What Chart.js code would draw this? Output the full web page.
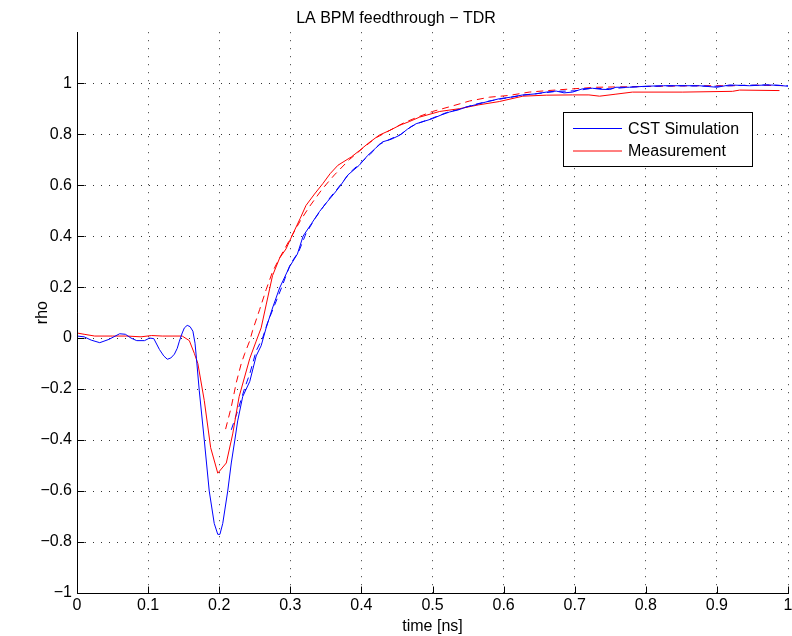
<!DOCTYPE html>
<html>
<head>
<meta charset="utf-8">
<script src="https://cdn.jsdelivr.net/npm/chart.js@4"></script>
<style>
html,body{margin:0;padding:0;background:#fff;}
#wrap{width:792px;height:636px;}
</style>
</head>
<body>
<div id="wrap"><canvas id="c" width="792" height="636"></canvas></div>
<script>
// ---- data ----
const xTicks = [0,0.1,0.2,0.3,0.4,0.5,0.6,0.7,0.8,0.9,1];
const xTickLabels = ['0','0.1','0.2','0.3','0.4','0.5','0.6','0.7','0.8','0.9','1'];
const yTicks = [-1,-0.8,-0.6,-0.4,-0.2,0,0.2,0.4,0.6,0.8,1];
const yTickLabels = ['\u22121','\u22120.8','\u22120.6','\u22120.4','\u22120.2','0','0.2','0.4','0.6','0.8','1'];

const cstTime = [0,0.01,0.02,0.032,0.045,0.06,0.068,0.076,0.084,0.095,0.102,0.108,0.116,0.122,0.127,0.132,0.137,0.141,0.144,0.148,0.151,0.155,0.159,0.163,0.166,0.168,0.172,0.179,0.186,0.193,0.198,0.201,0.205,0.212,0.217,0.222,0.226,0.233,0.243,0.252,0.259,0.266,0.275,0.285,0.299,0.31,0.318,0.33,0.341,0.352,0.362,0.371,0.381,0.397,0.409,0.42,0.43,0.442,0.454,0.465,0.477,0.49,0.5,0.512,0.524,0.536,0.547,0.56,0.575,0.594,0.61,0.627,0.645,0.66,0.674,0.685,0.697,0.711,0.725,0.737,0.749,0.758,0.777,0.8,0.825,0.852,0.875,0.9,0.918,0.946,0.97,0.985,1.0];
const cstRho = [0.008,0.005,-0.008,-0.018,-0.005,0.017,0.015,0.0,-0.01,-0.01,0.0,-0.002,-0.045,-0.07,-0.083,-0.078,-0.063,-0.04,-0.012,0.02,0.04,0.05,0.045,0.027,-0.02,-0.08,-0.207,-0.40,-0.60,-0.727,-0.77,-0.77,-0.727,-0.60,-0.49,-0.40,-0.325,-0.23,-0.17,-0.07,-0.03,0.04,0.118,0.197,0.28,0.33,0.40,0.45,0.496,0.535,0.568,0.60,0.64,0.678,0.717,0.745,0.77,0.78,0.796,0.82,0.841,0.852,0.861,0.875,0.887,0.895,0.906,0.915,0.926,0.939,0.945,0.954,0.958,0.965,0.969,0.962,0.965,0.978,0.98,0.976,0.975,0.984,0.984,0.988,0.99,0.99,0.99,0.984,0.993,0.99,0.993,0.992,0.988];

const measTime = [0,0.01,0.025,0.05,0.07,0.09,0.105,0.12,0.135,0.148,0.158,0.165,0.17,0.179,0.188,0.198,0.21,0.219,0.228,0.243,0.252,0.259,0.266,0.275,0.285,0.294,0.303,0.314,0.322,0.334,0.346,0.356,0.367,0.386,0.397,0.41,0.425,0.44,0.454,0.468,0.482,0.51,0.538,0.565,0.594,0.627,0.66,0.697,0.72,0.735,0.758,0.781,0.852,0.922,0.932,0.988];
const measRho = [0.02,0.015,0.008,0.008,0.008,0.005,0.01,0.008,0.008,0.008,-0.01,-0.06,-0.10,-0.245,-0.43,-0.53,-0.49,-0.376,-0.23,-0.08,-0.012,0.04,0.13,0.245,0.314,0.35,0.405,0.47,0.52,0.565,0.607,0.645,0.678,0.711,0.735,0.765,0.796,0.815,0.835,0.85,0.867,0.889,0.9,0.915,0.928,0.949,0.953,0.954,0.954,0.949,0.957,0.965,0.965,0.968,0.973,0.971];

const cstDashTime = [0.217,0.226,0.236,0.243,0.252,0.261,0.268,0.278,0.288,0.3,0.312,0.322,0.335,0.345,0.357,0.366,0.384,0.4,0.412,0.425,0.44,0.456,0.47,0.482,0.5,0.52,0.54,0.56,0.58,0.6,0.625,0.65,0.675,0.7,0.725,0.75,0.78,0.81,0.85,0.9,0.94,0.97,1.0];
const cstDashRho = [-0.36,-0.285,-0.195,-0.14,-0.05,0.0,0.06,0.13,0.2,0.29,0.34,0.41,0.47,0.51,0.555,0.585,0.65,0.69,0.72,0.76,0.78,0.80,0.83,0.845,0.863,0.885,0.9,0.917,0.93,0.94,0.952,0.96,0.968,0.97,0.98,0.978,0.985,0.988,0.99,0.988,0.992,0.993,0.99];

const measDashTime = [0.209,0.217,0.224,0.231,0.236,0.243,0.247,0.257,0.266,0.275,0.285,0.3,0.314,0.327,0.345,0.362,0.383,0.402,0.42,0.44,0.46,0.48,0.5,0.526,0.552,0.58,0.608,0.636,0.662,0.693,0.73,0.777,0.82,0.87,0.92,0.96,1.0];
const measDashRho = [-0.357,-0.27,-0.175,-0.10,-0.06,-0.01,0.03,0.113,0.19,0.26,0.315,0.39,0.46,0.516,0.585,0.64,0.70,0.745,0.785,0.815,0.845,0.868,0.889,0.909,0.93,0.945,0.952,0.965,0.971,0.977,0.984,0.986,0.988,0.99,0.99,0.992,0.99];

const FONT = '"Liberation Sans", Arial, Helvetica, sans-serif';
const pts = (xs, ys) => xs.map((x, i) => ({x: x, y: ys[i]}));

const axesAndTicks = {
  id: 'axesAndTicks',
  afterDatasetsDraw(chart) {
    const {ctx, chartArea: a, scales: {x, y}} = chart;
    ctx.save();
    ctx.setLineDash([]);
    ctx.strokeStyle = '#000';
    ctx.lineWidth = 1;
    ctx.beginPath();
    const L = Math.round(a.left) + 0.5, B = Math.round(a.bottom) + 0.5;
    ctx.moveTo(L, Math.round(a.top));
    ctx.lineTo(L, B);
    ctx.lineTo(Math.round(a.right) + 1, B);
    xTicks.forEach(v => {
      const px = Math.round(x.getPixelForValue(v)) + 0.5;
      ctx.moveTo(px, B);
      ctx.lineTo(px, B - 7);
    });
    yTicks.forEach(v => {
      const py = Math.round(y.getPixelForValue(v)) + 0.5;
      ctx.moveTo(L, py);
      ctx.lineTo(L + 7, py);
    });
    ctx.stroke();
    ctx.restore();
  }
};

const boxLegend = {
  id: 'boxLegend',
  afterDraw(chart) {
    const ctx = chart.ctx;
    const items = chart.data.datasets.filter(d => d.inLegend);
    const L = 563.5, T = 112.5, W = 189, H = 54;
    ctx.save();
    ctx.fillStyle = '#fff';
    ctx.fillRect(L, T, W, H);
    ctx.strokeStyle = '#000';
    ctx.lineWidth = 1;
    ctx.strokeRect(L, T, W, H);
    ctx.font = '16px ' + FONT;
    ctx.textBaseline = 'middle';
    ctx.textAlign = 'left';
    items.forEach((d, i) => {
      const yy = 128.5 + i * 22.5;
      ctx.strokeStyle = d.borderColor;
      ctx.beginPath();
      ctx.moveTo(573, yy);
      ctx.lineTo(622, yy);
      ctx.stroke();
      ctx.fillStyle = '#000';
      ctx.fillText(d.label, 628, yy + 1);
    });
    ctx.restore();
  }
};

new Chart(document.getElementById('c'), {
  type: 'line',
  data: {
    datasets: [
      {label: 'CST Simulation', inLegend: true, data: pts(cstTime, cstRho), borderColor: '#0000ff', borderWidth: 1, pointRadius: 0, tension: 0, fill: false},
      {label: 'Measurement', inLegend: true, data: pts(measTime, measRho), borderColor: '#ff0000', borderWidth: 1, pointRadius: 0, tension: 0, fill: false},
      {label: 'CST Simulation (dashed)', inLegend: false, data: pts(cstDashTime, cstDashRho), borderColor: '#0000ff', borderWidth: 1, borderDash: [7, 5], pointRadius: 0, tension: 0, fill: false},
      {label: 'Measurement (dashed)', inLegend: false, data: pts(measDashTime, measDashRho), borderColor: '#ff0000', borderWidth: 1, borderDash: [7, 5], pointRadius: 0, tension: 0, fill: false}
    ]
  },
  options: {
    responsive: false,
    animation: false,
    devicePixelRatio: 1,
    layout: {padding: {left: 0, right: 0, top: 0, bottom: 0}},
    plugins: {
      legend: {display: false},
      tooltip: {enabled: false},
      title: {
        display: true,
        text: 'LA BPM feedthrough \u2212 TDR',
        color: '#000',
        font: {family: FONT, size: 16, weight: 'normal'},
        padding: {top: 9, bottom: 4}
      }
    },
    scales: {
      x: {
        type: 'linear',
        min: 0, max: 1,
        afterBuildTicks: s => { s.ticks = xTicks.map(v => ({value: v})); },
        afterFit: s => { s.height = 43; s.paddingRight = 4; s.paddingLeft = 0; },
        ticks: {
          color: '#000',
          font: {family: FONT, size: 16},
          padding: 3,
          maxRotation: 0,
          autoSkip: false,
          callback: (v, i) => xTickLabels[i]
        },
        grid: {color: 'rgba(0,0,0,0.8)', drawTicks: false, lineWidth: 1},
        border: {display: false, dash: [1, 7]},
        title: {display: true, text: 'time [ns]', color: '#000', font: {family: FONT, size: 16}, padding: {top: 0, bottom: 0}}
      },
      y: {
        type: 'linear',
        min: -1, max: 1.2,
        afterBuildTicks: s => { s.ticks = yTicks.map(v => ({value: v})); },
        afterFit: s => { s.width = 77; },
        ticks: {
          color: '#000',
          font: {family: FONT, size: 16},
          padding: 5,
          autoSkip: false,
          callback: (v, i) => yTickLabels[i]
        },
        grid: {color: 'rgba(0,0,0,0.8)', drawTicks: false, lineWidth: 1},
        border: {display: false, dash: [1, 7]},
        title: {display: true, text: 'rho', color: '#000', font: {family: FONT, size: 16}, padding: {top: 33, bottom: 0}}
      }
    }
  },
  plugins: [axesAndTicks, boxLegend]
});
</script>
</body>
</html>
